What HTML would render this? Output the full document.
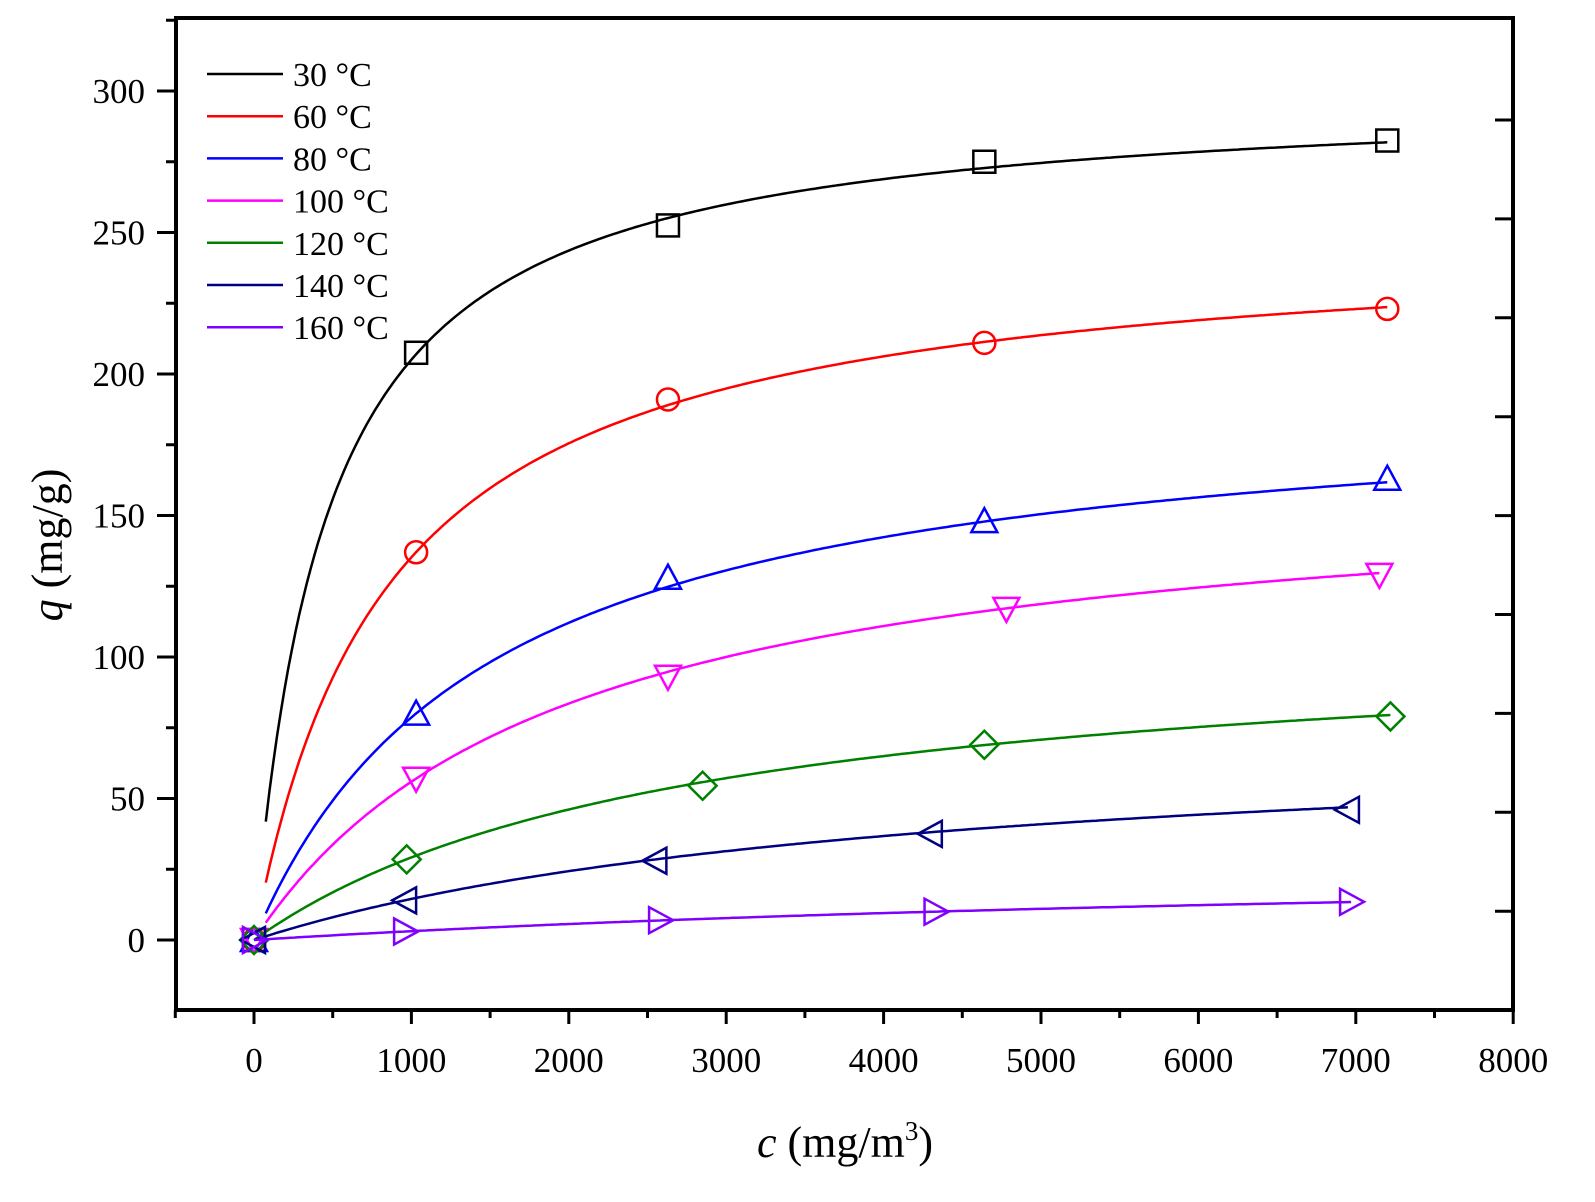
<!DOCTYPE html>
<html><head><meta charset="utf-8"><style>
body{margin:0;background:#fff}
svg{display:block;font-family:"Liberation Serif",serif}
</style></head><body>
<svg id="chart" width="1595" height="1202" viewBox="0 0 1595 1202">
<rect x="176" y="18" width="1337" height="992" fill="none" stroke="#000" stroke-width="4"/>
<g id="axes"></g><g id="series"></g><g id="legend"></g>
<text x="845" y="1157" font-size="44" text-anchor="middle"><tspan font-style="italic">c</tspan> (mg/m<tspan font-size="27" dy="-17">3</tspan><tspan dy="17">)</tspan></text>
<text transform="translate(62,545) rotate(-90)" font-size="44" text-anchor="middle"><tspan font-style="italic">q</tspan> (mg/g)</text>
</svg>
<script>
const labels=["30 °C","60 °C","80 °C","100 °C","120 °C","140 °C","160 °C"];
const colors=["#000000","#ff0000","#0000ff","#ff00ff","#008000","#000080","#8000ff"];
const markers=["square","circle","up","down","diamond","left","right"];
const cData=[[0,1030,2630,4640,7200],[0,1030,2630,4640,7200],[0,1030,2630,4640,7200],[0,1030,2630,4780,7150],[0,970,2850,4640,7220],[0,960,2550,4300,6950],[0,960,2580,4330,6970]];
const qData=[[0,207.5,252.5,275,282.5],[0,137,191,211,223],[0,80,128,148,163],[0,57,93,117,129],[0,28.5,54.5,69,79],[0,14,28,37.5,46],[0,3,7,10,13.5]];
const fitQm=[300,250,195,165,110,75,30];
const fitK=[0.00216,0.001178,0.000676,0.000513,0.000361,0.00024,0.000116];
const fitStart=[75,75,75,75,0,0,0];
const fitEnd=[7200,7200,7200,7150,7220,6950,6970];
const xTicks=[0,1000,2000,3000,4000,5000,6000,7000,8000];
const yTicks=[0,50,100,150,200,250,300];
const NS="http://www.w3.org/2000/svg";
const X=c=>254+(c/1000)*157.4;
const Y=q=>940-q*(849/300);
function mk(t,a,p){const e=document.createElementNS(NS,t);for(const k in a)e.setAttribute(k,a[k]);p.appendChild(e);return e;}
const ax=document.getElementById('axes');
for(let v=-500;v<=8000;v+=500){const major=v%1000===0;
 const t=mk('line',{x1:X(v),x2:X(v),y1:1010,y2:major?1024:1018,stroke:'#000','stroke-width':3},ax);
 }
xTicks.forEach(v=>{const t=mk('text',{x:X(v),y:1072,'font-size':35,'text-anchor':'middle'},ax);t.textContent=v;
 }); 
for(let v=-25;v<=325;v+=25){if(v<-20)continue;const major=v%50===0;
 const t=mk('line',{x1:major?157:166,x2:176,y1:Y(v),y2:Y(v),stroke:'#000','stroke-width':3},ax);
 }
yTicks.forEach(v=>{const t=mk('text',{x:145,y:Y(v)+12,'font-size':35,'text-anchor':'end'},ax);t.textContent=v;
 });
for(let y=120;y<1000;y+=98.9){const t=mk('line',{x1:1495,x2:1513,y1:y,y2:y,stroke:'#000','stroke-width':3},ax);
 }
const sg=document.getElementById('series');
function marker(type,cx,cy,col,g){const r=11;let e;
 if(type==='square')e=mk('rect',{x:cx-r,y:cy-r,width:2*r,height:2*r},g);
 else if(type==='circle')e=mk('circle',{cx:cx,cy:cy,r:r},g);
 else{let p;if(type==='up')p=[[0,-r-2],[r+2,r],[-r-2,r]];
  else if(type==='down')p=[[0,r+2],[r+2,-r],[-r-2,-r]];
  else if(type==='diamond')p=[[0,-r-3],[r+3,0],[0,r+3],[-r-3,0]];
  else if(type==='left')p=[[-r-2,0],[r,-r-2],[r,r+2]];
  else p=[[r+2,0],[-r,-r-2],[-r,r+2]];
  e=mk('polygon',{points:p.map(a=>(cx+a[0])+','+(cy+a[1])).join(' ')},g);}
 e.setAttribute('fill','none');e.setAttribute('stroke',col);e.setAttribute('stroke-width',2.5);
 }
labels.forEach((lab,i)=>{const g=mk('g',{},sg);
 
 let d='';for(let s=0;s<=300;s++){const c=fitStart[i]+(fitEnd[i]-fitStart[i])*s/300;
  const q=fitQm[i]*fitK[i]*c/(1+fitK[i]*c);d+=(s?'L':'M')+X(c).toFixed(1)+','+Y(q).toFixed(1);}
 const p=mk('path',{d:d,fill:'none',stroke:colors[i],'stroke-width':2.5},g);
 
 cData[i].forEach((c,j)=>marker(markers[i],X(c),Y(qData[i][j]),colors[i],g));});
const lg=document.getElementById('legend');
labels.forEach((lab,i)=>{const y=74+i*42.2;const g=mk('g',{},lg);
 
 mk('line',{x1:207,x2:283,y1:y,y2:y,stroke:colors[i],'stroke-width':2.5},g);
 const t=mk('text',{x:293,y:y+12,'font-size':34},g);t.textContent=lab;});
</script>
</body></html>
